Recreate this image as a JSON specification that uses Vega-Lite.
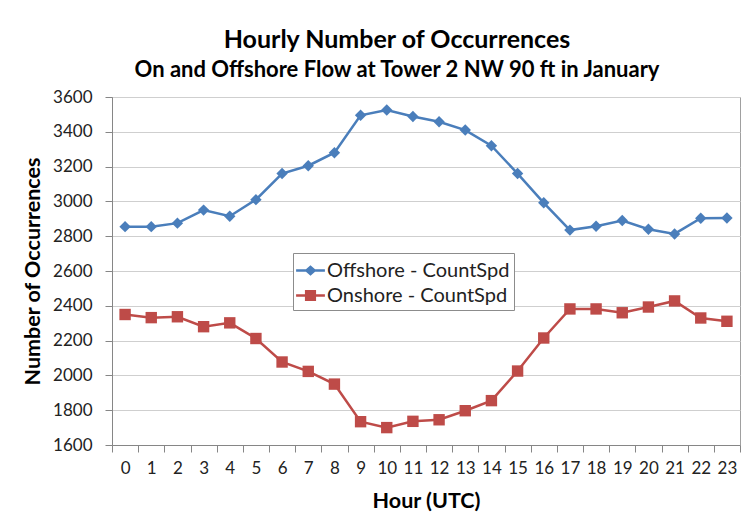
{
  "$schema": "https://vega.github.io/schema/vega-lite/v6.json",
  "width": 628,
  "height": 348,
  "autosize": {"type": "none"},
  "padding": {"left": 112, "top": 97, "right": 14, "bottom": 78},
  "background": "white",
  "title": {
    "text": "Hourly Number of Occurrences",
    "subtitle": "On and Offshore Flow at Tower 2 NW 90 ft in January",
    "anchor": "middle",
    "dx": -29,
    "offset": 7,
    "font": "Lato",
    "fontSize": 25,
    "fontWeight": "bold",
    "color": "#000000",
    "subtitleFont": "Lato",
    "subtitleFontSize": 22,
    "subtitleFontWeight": "bold",
    "subtitleColor": "#000000",
    "subtitlePadding": 7
  },
  "config": {
    "view": {"stroke": "#A0A0A0", "strokeWidth": 1},
    "font": "Lato"
  },
  "data": {
    "values": [
      {"hour": 0, "series": "Offshore - CountSpd", "count": 2855},
      {"hour": 1, "series": "Offshore - CountSpd", "count": 2855},
      {"hour": 2, "series": "Offshore - CountSpd", "count": 2875},
      {"hour": 3, "series": "Offshore - CountSpd", "count": 2950},
      {"hour": 4, "series": "Offshore - CountSpd", "count": 2915},
      {"hour": 5, "series": "Offshore - CountSpd", "count": 3010},
      {"hour": 6, "series": "Offshore - CountSpd", "count": 3160},
      {"hour": 7, "series": "Offshore - CountSpd", "count": 3205},
      {"hour": 8, "series": "Offshore - CountSpd", "count": 3280},
      {"hour": 9, "series": "Offshore - CountSpd", "count": 3495},
      {"hour": 10, "series": "Offshore - CountSpd", "count": 3525},
      {"hour": 11, "series": "Offshore - CountSpd", "count": 3488},
      {"hour": 12, "series": "Offshore - CountSpd", "count": 3458},
      {"hour": 13, "series": "Offshore - CountSpd", "count": 3410},
      {"hour": 14, "series": "Offshore - CountSpd", "count": 3320},
      {"hour": 15, "series": "Offshore - CountSpd", "count": 3160},
      {"hour": 16, "series": "Offshore - CountSpd", "count": 2992},
      {"hour": 17, "series": "Offshore - CountSpd", "count": 2835},
      {"hour": 18, "series": "Offshore - CountSpd", "count": 2857},
      {"hour": 19, "series": "Offshore - CountSpd", "count": 2890},
      {"hour": 20, "series": "Offshore - CountSpd", "count": 2840},
      {"hour": 21, "series": "Offshore - CountSpd", "count": 2813},
      {"hour": 22, "series": "Offshore - CountSpd", "count": 2903},
      {"hour": 23, "series": "Offshore - CountSpd", "count": 2905},
      {"hour": 0, "series": "Onshore - CountSpd", "count": 2350},
      {"hour": 1, "series": "Onshore - CountSpd", "count": 2332},
      {"hour": 2, "series": "Onshore - CountSpd", "count": 2337},
      {"hour": 3, "series": "Onshore - CountSpd", "count": 2280},
      {"hour": 4, "series": "Onshore - CountSpd", "count": 2302},
      {"hour": 5, "series": "Onshore - CountSpd", "count": 2212},
      {"hour": 6, "series": "Onshore - CountSpd", "count": 2077},
      {"hour": 7, "series": "Onshore - CountSpd", "count": 2023},
      {"hour": 8, "series": "Onshore - CountSpd", "count": 1950},
      {"hour": 9, "series": "Onshore - CountSpd", "count": 1734},
      {"hour": 10, "series": "Onshore - CountSpd", "count": 1700},
      {"hour": 11, "series": "Onshore - CountSpd", "count": 1736},
      {"hour": 12, "series": "Onshore - CountSpd", "count": 1745},
      {"hour": 13, "series": "Onshore - CountSpd", "count": 1797},
      {"hour": 14, "series": "Onshore - CountSpd", "count": 1855},
      {"hour": 15, "series": "Onshore - CountSpd", "count": 2025},
      {"hour": 16, "series": "Onshore - CountSpd", "count": 2215},
      {"hour": 17, "series": "Onshore - CountSpd", "count": 2382},
      {"hour": 18, "series": "Onshore - CountSpd", "count": 2382},
      {"hour": 19, "series": "Onshore - CountSpd", "count": 2360},
      {"hour": 20, "series": "Onshore - CountSpd", "count": 2393},
      {"hour": 21, "series": "Onshore - CountSpd", "count": 2428},
      {"hour": 22, "series": "Onshore - CountSpd", "count": 2330},
      {"hour": 23, "series": "Onshore - CountSpd", "count": 2311}
    ]
  },
  "encoding": {
    "x": {
      "field": "hour",
      "type": "ordinal",
      "bandPosition": 0.5,
      "scale": {"type": "band", "paddingInner": 0, "paddingOuter": 0},
      "axis": {
        "title": "Hour (UTC)",
        "labelAngle": 0,
        "tickBand": "extent",
        "grid": false,
        "domainColor": "#868686",
        "tickColor": "#868686",
        "tickSize": 7,
        "labelPadding": 8,
        "labelFont": "Lato",
        "labelFontSize": 17,
        "labelColor": "#222222",
        "labelOverlap": false,
        "labelBound": false,
        "titleFont": "Lato",
        "titleFontSize": 21.5,
        "titleFontWeight": "bold",
        "titleColor": "#000000",
        "titlePadding": 14
      }
    },
    "y": {
      "field": "count",
      "type": "quantitative",
      "scale": {"domain": [1600, 3600], "nice": false, "zero": false},
      "axis": {
        "title": "Number of Occurrences",
        "format": "d",
        "values": [1600, 1800, 2000, 2200, 2400, 2600, 2800, 3000, 3200, 3400, 3600],
        "grid": true,
        "gridColor": "#CFCFCF",
        "gridWidth": 1.2,
        "domainColor": "#868686",
        "tickColor": "#868686",
        "tickSize": 7,
        "labelPadding": 13,
        "labelFont": "Lato",
        "labelFontSize": 17,
        "labelColor": "#222222",
        "titleFont": "Lato",
        "titleFontSize": 21.5,
        "titleFontWeight": "bold",
        "titleColor": "#000000",
        "titlePadding": 8
      }
    },
    "color": {
      "field": "series",
      "type": "nominal",
      "scale": {
        "domain": ["Offshore - CountSpd", "Onshore - CountSpd"],
        "range": ["#4A7EBB", "#BE4B48"]
      },
      "legend": {
        "title": null,
        "orient": "none",
        "legendX": 181,
        "legendY": 156,
        "fillColor": "white",
        "strokeColor": "#8C8C8C",
        "padding": 4,
        "rowPadding": 1,
        "symbolSize": 576,
        "symbolStrokeWidth": 2.5,
        "labelFont": "Lato",
        "labelFontSize": 20,
        "labelColor": "#222222",
        "labelOffset": 3,
        "labelLimit": 300,
        "encode": {
          "symbols": {
            "update": {
              "shape": {"signal": "datum.value == 'Offshore - CountSpd' ? 'M-1.2,0L1.2,0M0,-0.3L0.34,0L0,0.3L-0.34,0Z' : 'M-1.2,0L1.2,0M-0.36,-0.36L0.36,-0.36L0.36,0.36L-0.36,0.36Z'"},
              "fill": {"signal": "datum.value == 'Offshore - CountSpd' ? '#4A7EBB' : '#BE4B48'"},
              "stroke": {"signal": "datum.value == 'Offshore - CountSpd' ? '#4A7EBB' : '#BE4B48'"},
              "strokeWidth": {"value": 2.5}
            }
          }
        }
      }
    }
  },
  "layer": [
    {
      "mark": {"type": "line", "strokeWidth": 2.5}
    },
    {
      "transform": [{"filter": "datum.series == 'Offshore - CountSpd'"}],
      "mark": {"type": "point", "filled": true, "opacity": 1, "size": 130, "shape": "diamond"}
    },
    {
      "transform": [{"filter": "datum.series == 'Onshore - CountSpd'"}],
      "mark": {"type": "point", "filled": true, "opacity": 1, "size": 130, "shape": "square"}
    }
  ]
}
